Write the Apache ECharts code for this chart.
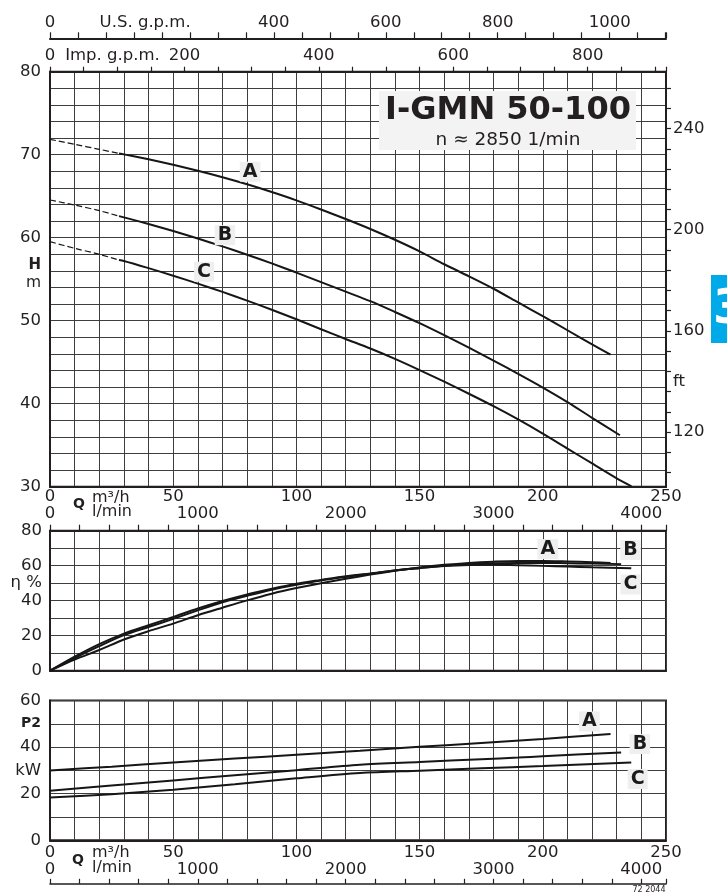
<!DOCTYPE html>
<html>
<head>
<meta charset="utf-8">
<script src="https://cdn.jsdelivr.net/npm/echarts/dist/echarts.min.js"></script>
<style>
html,body{margin:0;padding:0;background:#fff;}
#chart{width:727px;height:892px;}
</style>
</head>
<body>
<div id="chart"></div>
<script>
// ---------------- data ----------------
const curveNames = ['A', 'B', 'C'];

// Head H (m) vs Q (m3/h) – dashed start and solid part
const qHeadDash = [0, 10, 20, 28];
const headADash = [71.85, 71.25, 70.65, 70.15];
const headBDash = [64.54, 63.94, 63.26, 62.6];
const headCDash = [59.52, 58.72, 58.0, 57.31];

const qHeadA = [28, 30, 40, 50, 60, 70, 80, 90, 100, 110, 120, 130, 140, 150, 160, 170, 180, 190, 200, 210, 220, 227.5];
const headA  = [70.15, 70.04, 69.44, 68.78, 68.06, 67.28, 66.43, 65.5, 64.5, 63.4, 62.25, 61.05, 59.75, 58.35, 56.8, 55.35, 53.85, 52.2, 50.55, 48.85, 47.15, 45.9];
const qHeadB = [28, 30, 40, 50, 60, 70, 80, 90, 100, 110, 120, 130, 140, 150, 160, 170, 180, 190, 200, 210, 220, 231.3];
const headB  = [62.6, 62.45, 61.65, 60.8, 59.9, 58.95, 57.95, 56.9, 55.8, 54.65, 53.5, 52.35, 51.05, 49.7, 48.25, 46.75, 45.2, 43.6, 41.95, 40.2, 38.3, 36.2];
const qHeadC = [28, 30, 40, 50, 60, 70, 80, 90, 100, 110, 120, 130, 140, 150, 160, 170, 180, 190, 200, 210, 220, 230, 236];
const headC  = [57.31, 57.2, 56.33, 55.42, 54.47, 53.47, 52.42, 51.32, 50.17, 48.97, 47.8, 46.65, 45.4, 44.05, 42.65, 41.2, 39.7, 38.1, 36.4, 34.6, 32.8, 31.0, 30.05];

// Efficiency eta (%) vs Q
const qEffA = [0, 10, 20, 30, 40, 50, 60, 70, 80, 90, 100, 110, 120, 130, 140, 150, 160, 170, 180, 190, 200, 210, 220, 227.5];
const effA  = [0, 6.4, 11.8, 17.8, 22.6, 26.9, 31.7, 36.0, 40.2, 44.0, 47.2, 50.0, 52.5, 54.9, 57.1, 59.0, 60.5, 61.6, 62.3, 62.7, 62.7, 62.4, 62.0, 61.6];
const qEffB = [0, 10, 20, 30, 40, 50, 60, 70, 80, 90, 100, 110, 120, 130, 140, 150, 160, 170, 180, 190, 200, 210, 220, 231.8];
const effB  = [0, 7.2, 14.0, 20.3, 25.0, 29.6, 34.5, 39.1, 42.8, 46.3, 49.1, 51.6, 53.6, 55.4, 57.3, 58.7, 60.0, 60.9, 61.4, 61.6, 61.6, 61.4, 61.2, 60.9];
const qEffC = [0, 10, 20, 30, 40, 50, 60, 70, 80, 90, 100, 110, 120, 130, 140, 150, 160, 170, 180, 190, 200, 210, 220, 235.9];
const effC  = [0, 8.0, 15.2, 21.2, 26.0, 30.7, 35.5, 39.8, 43.6, 46.8, 49.7, 51.9, 54.0, 55.6, 57.3, 58.6, 59.8, 60.4, 60.5, 60.3, 59.9, 59.5, 59.1, 58.6];

// Power P2 (kW) vs Q
const qPowA = [0, 25, 50, 75, 100, 125.8, 150, 175, 200, 227.5];
const powA  = [30.0, 31.6, 33.4, 35.1, 36.7, 38.4, 40.1, 41.8, 43.5, 45.6];
const qPowB = [0, 25, 50, 75, 100, 125.8, 150, 175, 190, 200, 231.8];
const powB  = [21.3, 23.5, 25.7, 27.9, 30.1, 32.4, 33.6, 34.8, 35.5, 36.1, 37.7];
const qPowC = [0, 25, 50, 75, 100, 125.8, 150, 175, 200, 235.9];
const powC  = [18.4, 19.8, 21.7, 24.1, 26.6, 28.9, 29.9, 30.9, 31.9, 33.4];

// curve-letter anchors [Q, value]
const headLabelPos = [[81.2, 67.95], [71, 60.3], [62.5, 55.9]];
const effLabelPos  = [[202, 69.5], [235.6, 69], [235.6, 49.3]];
const powLabelPos  = [[218.9, 51], [239.4, 41.3], [238.5, 26.3]];

// axis tick labels
const qLabels     = [0, 50, 100, 150, 200, 250];
const lminLabels  = [0, 1000, 2000, 3000, 4000];
const impLabels   = [0, 93, 200, 400, 600, 800];
const usLabels    = [0, 170, 400, 600, 800, 1000];
const headLabels  = [30, 40, 50, 55.6, 60, 70, 80];
const ftLabels    = [120, 140, 160, 200, 240];
const ftTicks     = [104, 112, 120, 128, 136, 144, 152, 160, 168, 176, 184, 192, 200, 208, 216, 224, 232, 240, 248, 256];
const effLabels   = [0, 20, 40, 50, 60, 80];
const powLabels   = [0, 20, 30, 40, 50, 60];

// unit conversions of the 0..250 m3/h range
const Q_MAX = 250;
const LMIN_MAX = Q_MAX * 1000 / 60;
const IMP_MAX = Q_MAX * 3.66615;
const US_MAX = Q_MAX * 4.40287;
const FT_MIN = 30 / 0.3048, FT_MAX = 80 / 0.3048;

// ---------------- styles ----------------
const FONT = 'DejaVu Sans';
const INK = '#231f20';
const GRIDC = '#3e3e3e';
const LINEC = '#161616';
const lblBase = {fontFamily: FONT, fontSize: 16.5, color: INK};
const plain = v => String(v);

function borderLine(w) { return {show: true, onZero: false, lineStyle: {color: INK, width: w}}; }

function qAxis(grid, showLabels, margin) {
  return {
    gridIndex: grid, type: 'value', position: 'bottom', min: 0, max: Q_MAX, interval: 10,
    axisLine: borderLine(2), axisTick: {show: false},
    splitLine: {show: true, lineStyle: {color: GRIDC, width: 1}},
    axisLabel: Object.assign({show: showLabels, customValues: qLabels, margin: margin, formatter: plain}, lblBase)
  };
}

const chart = echarts.init(document.getElementById('chart'), null, {renderer: 'canvas'});

function curve(q, v, xi, yi, dashed) {
  return {
    type: 'line', xAxisIndex: xi, yAxisIndex: yi,
    data: q.map((x, i) => [x, v[i]]),
    showSymbol: false, smooth: 0.3, silent: true, z: 5,
    lineStyle: {color: LINEC, width: dashed ? 1.2 : 2, type: dashed ? [6, 3] : 'solid'}
  };
}
function letters(pos, xi, yi) {
  return {
    type: 'scatter', xAxisIndex: xi, yAxisIndex: yi, symbol: 'rect', symbolSize: 1, silent: true, z: 10,
    itemStyle: {color: '#efefef', opacity: 1},
    data: pos.map((p, i) => ({value: p, name: curveNames[i]})),
    label: {show: true, position: 'inside', formatter: '{b}', fontFamily: FONT, fontWeight: 'bold',
            fontSize: 19, color: '#1a1a1a', opacity: 1, textBorderWidth: 0,
            backgroundColor: '#efefef', padding: [1, 3, 0, 3]}
  };
}

const option = {
  animation: false,
  backgroundColor: '#ffffff',
  grid: [
    {left: 50, top: 71.7, width: 616, height: 415, show: true, borderColor: INK, borderWidth: 2, backgroundColor: 'transparent'},
    {left: 50, top: 530.7, width: 616, height: 140, show: true, borderColor: INK, borderWidth: 2, backgroundColor: 'transparent'},
    {left: 50, top: 700.5, width: 616, height: 139.8, show: true, borderColor: INK, borderWidth: 2, backgroundColor: 'transparent'}
  ],
  xAxis: [
    qAxis(0, true, 2),
    { // Imp gpm on top border
      gridIndex: 0, type: 'value', position: 'top', min: 0, max: IMP_MAX, interval: 50,
      axisLine: borderLine(2), axisTick: {show: true, length: 5, lineStyle: {color: INK, width: 1.2}},
      splitLine: {show: false},
      axisLabel: Object.assign({customValues: impLabels, margin: 7,
        formatter: v => (Math.abs(v - 93) < 0.5 ? 'Imp. g.p.m.' : String(v))}, lblBase)
    },
    { // US gpm separate line above
      gridIndex: 0, type: 'value', position: 'top', offset: 33.4, min: 0, max: US_MAX, interval: 50,
      axisLine: borderLine(2), axisTick: {show: true, length: 6, lineStyle: {color: INK, width: 1.2}},
      splitLine: {show: false},
      axisLabel: Object.assign({customValues: usLabels, margin: 7,
        formatter: v => (Math.abs(v - 170) < 0.5 ? 'U.S. g.p.m.' : String(v))}, lblBase)
    },
    qAxis(1, false, 2),
    { // l/min on top of eta chart
      gridIndex: 1, type: 'value', position: 'top', min: 0, max: LMIN_MAX, interval: 200,
      axisLine: borderLine(2), axisTick: {show: true, length: 6, lineStyle: {color: INK, width: 1.2}},
      splitLine: {show: false},
      axisLabel: Object.assign({customValues: lminLabels, margin: 8, formatter: plain}, lblBase)
    },
    qAxis(2, true, 4),
    { // l/min bottom line
      gridIndex: 2, type: 'value', position: 'bottom', offset: 43.5, min: 0, max: LMIN_MAX, interval: 200,
      axisLine: borderLine(1.6), axisTick: {show: true, inside: true, length: 5, lineStyle: {color: INK, width: 1.2}},
      splitLine: {show: false},
      axisLabel: Object.assign({customValues: lminLabels, inside: true, margin: 5.5, formatter: plain}, lblBase)
    }
  ],
  yAxis: [
    {
      gridIndex: 0, type: 'value', min: 30, max: 80, interval: 2,
      axisLine: borderLine(2), axisTick: {show: false},
      splitLine: {show: true, lineStyle: {color: GRIDC, width: 1}},
      axisLabel: Object.assign({customValues: headLabels, margin: 9,
        formatter: v => (Math.abs(v - 55.6) < 0.01 ? '{h|H}\n{m|m}' : String(v)),
        rich: {h: {fontFamily: FONT, fontWeight: 'bold', fontSize: 15, color: INK, lineHeight: 18},
               m: {fontFamily: FONT, fontSize: 15.5, color: INK, lineHeight: 18}}}, lblBase)
    },
    {
      gridIndex: 0, type: 'value', position: 'right', min: FT_MIN, max: FT_MAX,
      axisLine: borderLine(2), axisTick: {show: true, customValues: ftTicks, length: 5, lineStyle: {color: INK, width: 1.2}},
      splitLine: {show: false},
      axisLabel: Object.assign({customValues: ftLabels, margin: 7,
        formatter: v => (v === 140 ? 'ft' : String(v))}, lblBase)
    },
    {
      gridIndex: 1, type: 'value', min: 0, max: 80, interval: 10,
      axisLine: borderLine(2), axisTick: {show: false},
      splitLine: {show: true, lineStyle: {color: GRIDC, width: 1}},
      axisLabel: Object.assign({customValues: effLabels, margin: 8,
        formatter: v => (v === 50 ? 'η %' : String(v))}, lblBase)
    },
    {
      gridIndex: 2, type: 'value', min: 0, max: 60, interval: 10,
      axisLine: borderLine(2), axisTick: {show: false},
      splitLine: {show: true, lineStyle: {color: GRIDC, width: 1}},
      axisLabel: Object.assign({customValues: powLabels, margin: 9,
        formatter: v => (v === 50 ? '{b|P2}' : v === 30 ? 'kW' : String(v)),
        rich: {b: {fontFamily: FONT, fontWeight: 'bold', fontSize: 14, color: INK}}}, lblBase)
    }
  ],
  series: [
    curve(qHeadDash, headADash, 0, 0, true),
    curve(qHeadDash, headBDash, 0, 0, true),
    curve(qHeadDash, headCDash, 0, 0, true),
    curve(qHeadA, headA, 0, 0, false),
    curve(qHeadB, headB, 0, 0, false),
    curve(qHeadC, headC, 0, 0, false),
    letters(headLabelPos, 0, 0),
    curve(qEffA, effA, 3, 2, false),
    curve(qEffB, effB, 3, 2, false),
    curve(qEffC, effC, 3, 2, false),
    letters(effLabelPos, 3, 2),
    curve(qPowA, powA, 5, 3, false),
    curve(qPowB, powB, 5, 3, false),
    curve(qPowC, powC, 5, 3, false),
    letters(powLabelPos, 5, 3)
  ],
  graphic: [
    {type: 'rect', z: 100, shape: {x: 379, y: 91, width: 257, height: 59}, style: {fill: '#f3f3f3'}},
    {type: 'text', z: 101, x: 508, y: 111, style: {text: 'I-GMN 50-100', font: 'bold 32px "DejaVu Sans"', fill: INK,
      align: 'center', verticalAlign: 'middle', textAlign: 'center', textVerticalAlign: 'middle'}},
    {type: 'text', z: 101, x: 508, y: 140, style: {text: 'n ≈ 2850 1/min', font: '18.5px "DejaVu Sans"', fill: INK,
      align: 'center', verticalAlign: 'middle', textAlign: 'center', textVerticalAlign: 'middle'}},
    {type: 'text', z: 101, x: 79, y: 504, style: {text: 'Q', font: 'bold 14px "DejaVu Sans"', fill: INK,
      align: 'center', verticalAlign: 'middle', textAlign: 'center', textVerticalAlign: 'middle'}},
    {type: 'text', z: 101, x: 92, y: 497.5, style: {text: 'm³/h', font: '16px "DejaVu Sans"', fill: INK,
      align: 'left', verticalAlign: 'middle', textAlign: 'left', textVerticalAlign: 'middle'}},
    {type: 'text', z: 101, x: 92, y: 512, style: {text: 'l/min', font: '16px "DejaVu Sans"', fill: INK,
      align: 'left', verticalAlign: 'middle', textAlign: 'left', textVerticalAlign: 'middle'}},
    {type: 'text', z: 101, x: 78, y: 860, style: {text: 'Q', font: 'bold 14px "DejaVu Sans"', fill: INK,
      align: 'center', verticalAlign: 'middle', textAlign: 'center', textVerticalAlign: 'middle'}},
    {type: 'text', z: 101, x: 92, y: 853, style: {text: 'm³/h', font: '16px "DejaVu Sans"', fill: INK,
      align: 'left', verticalAlign: 'middle', textAlign: 'left', textVerticalAlign: 'middle'}},
    {type: 'text', z: 101, x: 92, y: 867.5, style: {text: 'l/min', font: '16px "DejaVu Sans"', fill: INK,
      align: 'left', verticalAlign: 'middle', textAlign: 'left', textVerticalAlign: 'middle'}},
    {type: 'rect', z: 100, shape: {x: 711, y: 275, width: 16, height: 68}, style: {fill: '#00a9e8'}},
    {type: 'text', z: 101, x: 713, y: 311, style: {text: '3', font: 'bold 48px "DejaVu Sans"', fill: '#ffffff',
      align: 'left', verticalAlign: 'middle', textAlign: 'left', textVerticalAlign: 'middle'}},
    {type: 'text', z: 101, x: 649, y: 890, style: {text: '72 2044', font: '8px "DejaVu Sans"', fill: INK,
      align: 'center', verticalAlign: 'middle', textAlign: 'center', textVerticalAlign: 'middle'}}
  ]
};
chart.setOption(option);
</script>
</body>
</html>
